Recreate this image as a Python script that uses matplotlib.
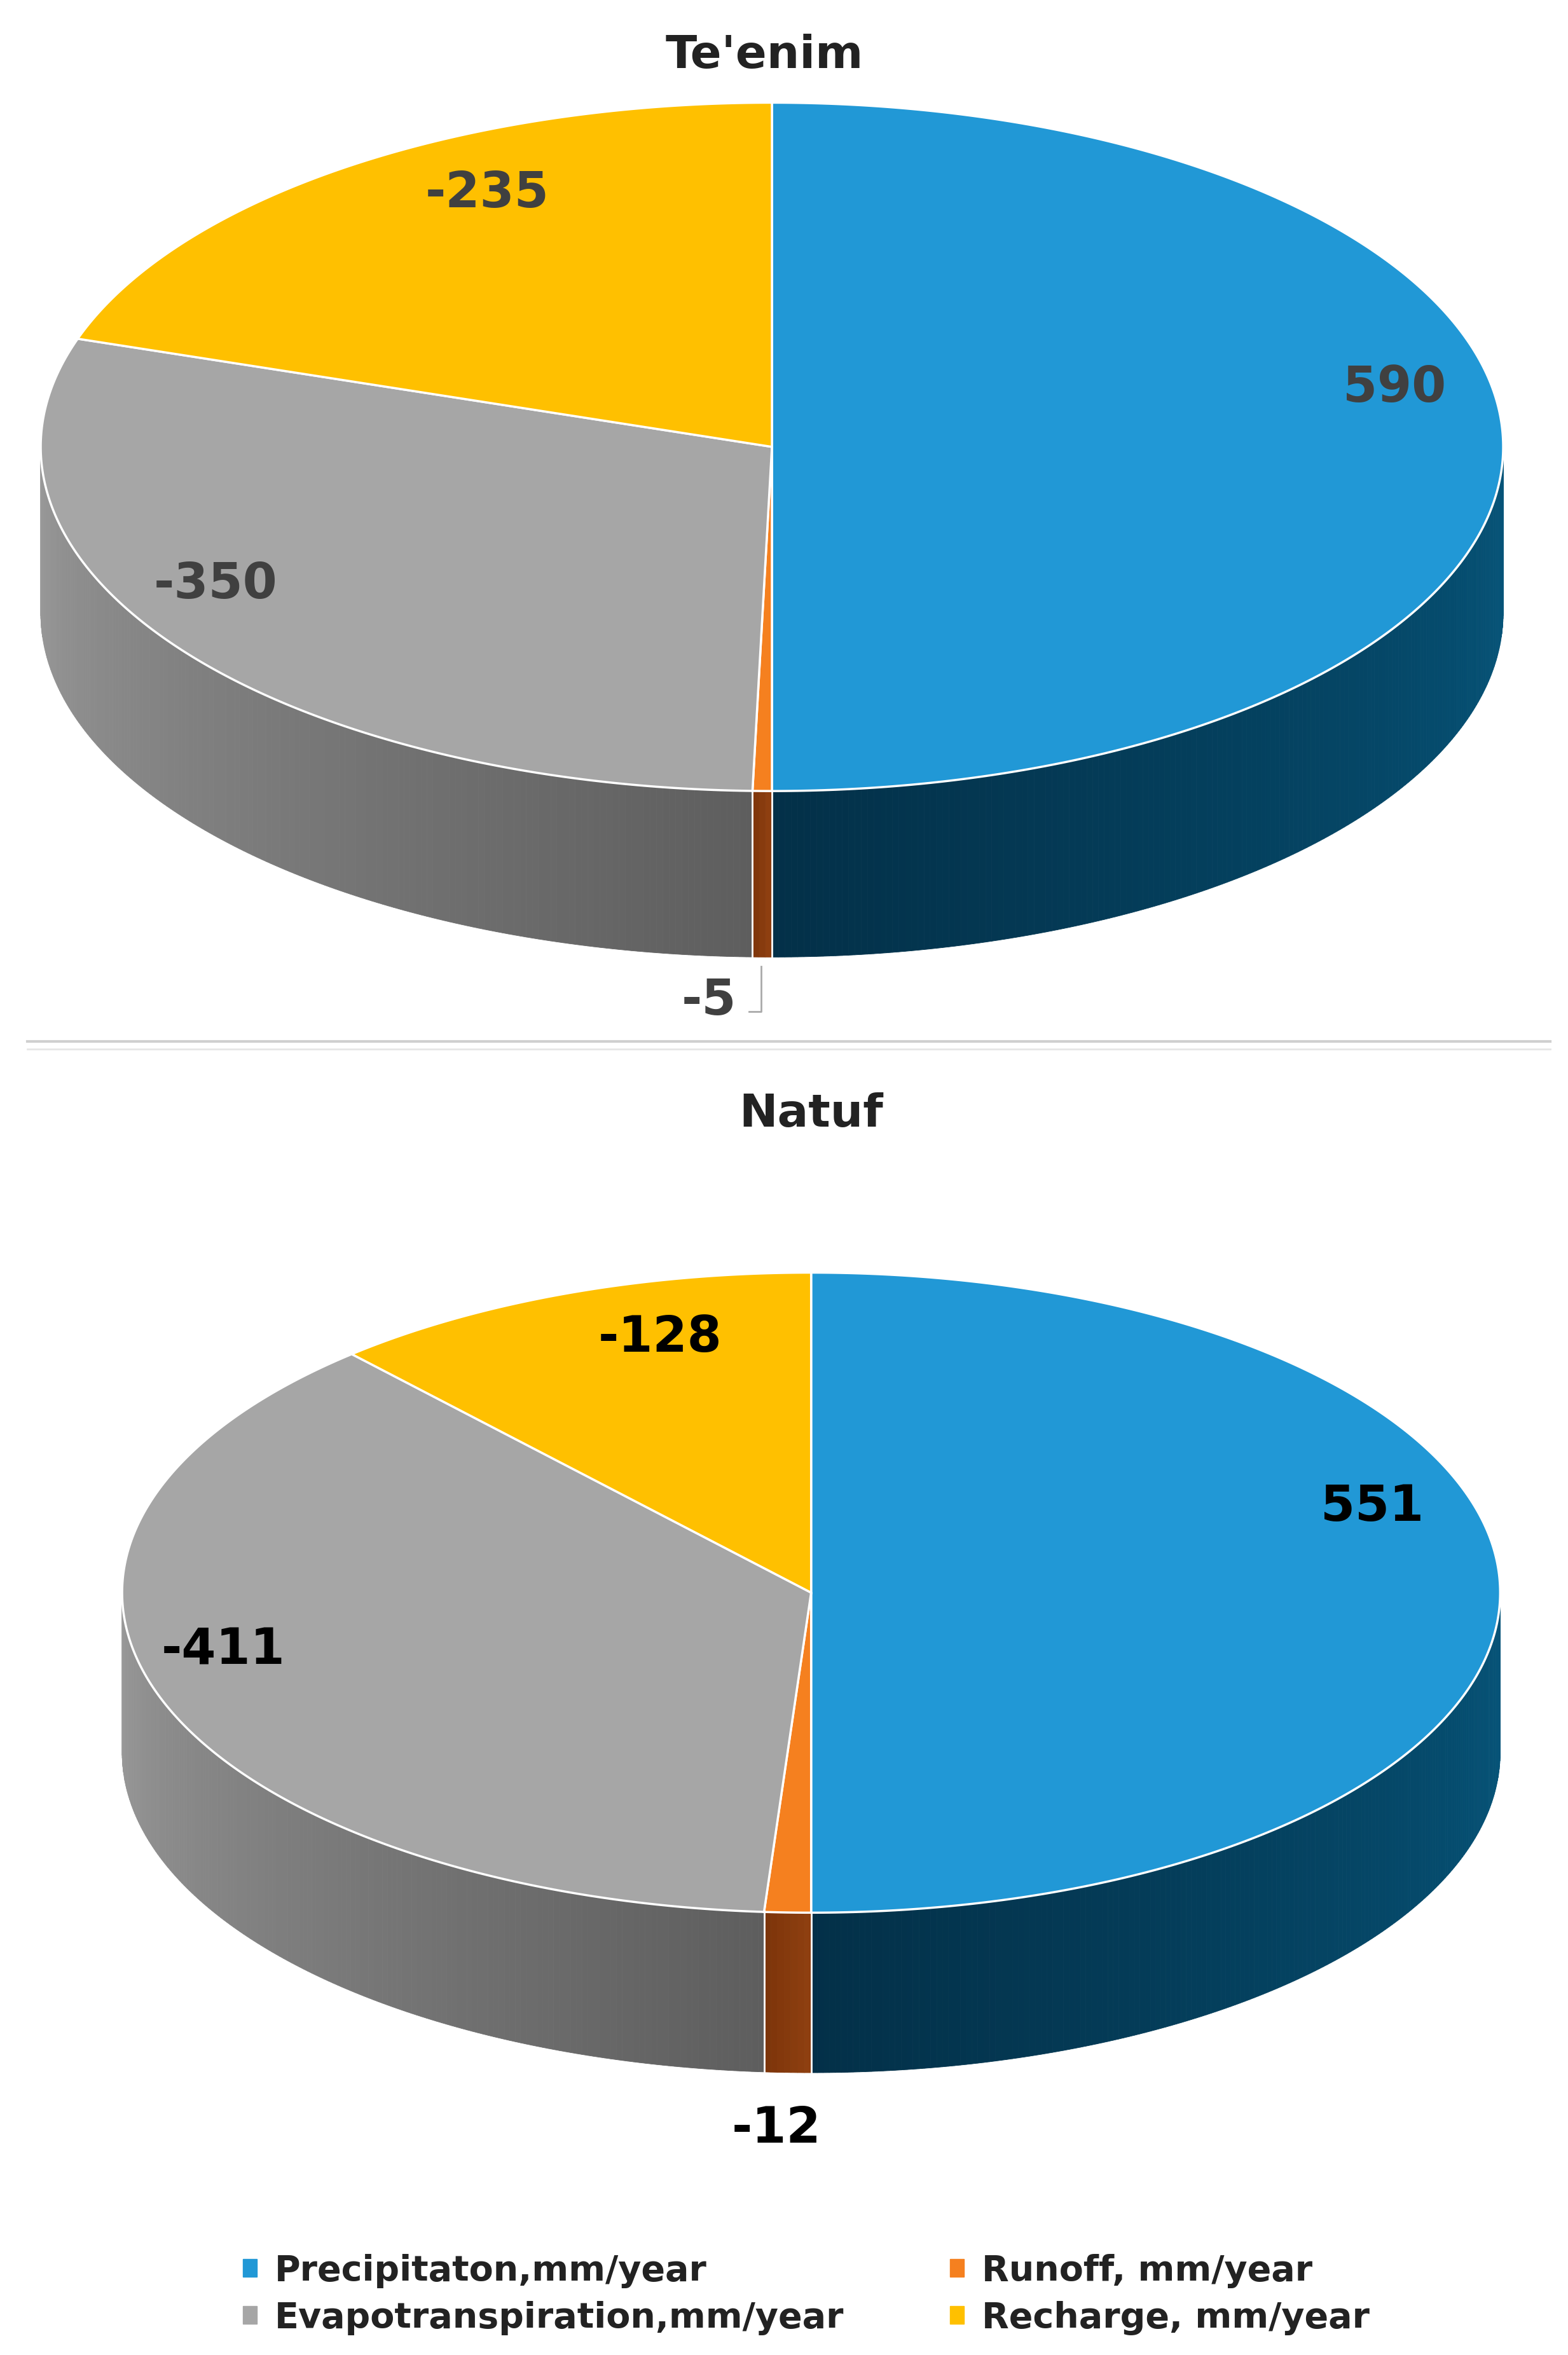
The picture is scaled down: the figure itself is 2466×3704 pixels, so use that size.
import numpy as np
import matplotlib
matplotlib.use("Agg")
import matplotlib.pyplot as plt
from matplotlib.patches import Polygon, Patch
from matplotlib.colors import to_rgb

categories = ["Precipitaton,mm/year", "Runoff, mm/year", "Evapotranspiration,mm/year", "Recharge, mm/year"]
teenim_values = [590, -5, -350, -235]
natuf_values = [551, -12, -411, -128]
titles = ["Te'enim", "Natuf"]

top_colors = ["#2198D6", "#F5801F", "#A6A6A6", "#FFC000"]
side_start = ["#06557A", "#8E3F10", "#9A9A9A", "#B38600"]
side_end = ["#033048", "#7A3309", "#5E5E5E", "#8A6700"]

fig = plt.figure(figsize=(24.66, 37.04), dpi=100)
ax = fig.add_axes([0, 0, 1, 1])
ax.set_xlim(0, 1040)
ax.set_ylim(1560, 0)
ax.axis("off")

def mix(c1, c2, f):
    a, b = np.array(to_rgb(c1)), np.array(to_rgb(c2))
    return tuple(a + (b - a) * f)

def pie3d(vals, cx, cy, rx, ry, depth, label_pos, label_color, title, title_y):
    v = np.abs(np.array(vals, float))
    ang = np.concatenate([[0], np.cumsum(v) / v.sum() * 360])
    pt = lambda t: (cx + rx * np.sin(np.radians(t)), cy - ry * np.cos(np.radians(t)))
    # sides
    for i in range(len(v)):
        a0, a1 = max(ang[i], 90), min(ang[i + 1], 270)
        if a1 <= a0:
            continue
        ts = np.linspace(a0, a1, max(2, int((a1 - a0) * 2) + 1))
        for k in range(len(ts) - 1):
            f = (ts[k] - a0) / max(a1 - a0, 1e-9)
            if i == 0:
                f = 1 - f
            x0, y0 = pt(ts[k]); x1, y1 = pt(ts[k + 1])
            col = mix(side_start[i], side_end[i], f if i != 2 else 1 - f) if i != 0 else mix(side_start[i], side_end[i], 1 - f)
            ax.add_patch(Polygon([(x0, y0), (x1, y1), (x1, y1 + depth), (x0, y0 + depth)],
                                 closed=True, facecolor=col, edgecolor=col, lw=0.6))
        # edge lines on side
        for t in (a0, a1):
            if 90 < t < 270:
                x, y = pt(t)
                ax.plot([x, x], [y, y + depth], color="white", lw=2, alpha=0.8)
    # tops
    for i in range(len(v)):
        ts = np.linspace(ang[i], ang[i + 1], max(3, int((ang[i + 1] - ang[i]) * 2)))
        poly = [(cx, cy)] + [pt(t) for t in ts]
        ax.add_patch(Polygon(poly, closed=True, facecolor=top_colors[i], edgecolor="white", lw=2.5))
    for (x, y), val in zip(label_pos, vals):
        ax.text(x, y, f"{val}", ha="center", va="center", fontsize=56, fontweight="bold", color=label_color)
    ax.text(cx if title == "Natuf" else 507, title_y, title, ha="center", va="center", fontsize=52, fontweight="bold", color="#222222")

pie3d(teenim_values, 512, 296, 485, 228, 110,
      [(925, 257), (470, 663), (143, 387), (323, 128)], "#404040", titles[0], 37)
ax.plot([497, 505, 505], [670, 670, 640], color="#AAAAAA", lw=2)
pie3d(natuf_values, 538, 1055, 457, 212, 106,
      [(910, 998), (515, 1410), (148, 1093), (438, 886)], "black", titles[1], 738)

ax.plot([18, 1028], [690, 690], color="#D0D0D0", lw=3)
ax.plot([18, 1028], [695, 695], color="#E6E6E6", lw=2)

handles = [Patch(color=top_colors[0]), Patch(color=top_colors[2]), Patch(color=top_colors[1]), Patch(color=top_colors[3])]
labels = [categories[0], categories[2], categories[1], categories[3]]
ax.legend(handles, labels, ncol=2, loc="upper left", bbox_to_anchor=(140 / 1040, 1 - 1472 / 1560),
          frameon=False, handlelength=0.4, handleheight=0.4, handletextpad=0.5, columnspacing=3.0,
          labelspacing=0.35, prop={"size": 40, "weight": "bold"}, labelcolor="#222222")

fig.savefig("out.png", dpi=100)
